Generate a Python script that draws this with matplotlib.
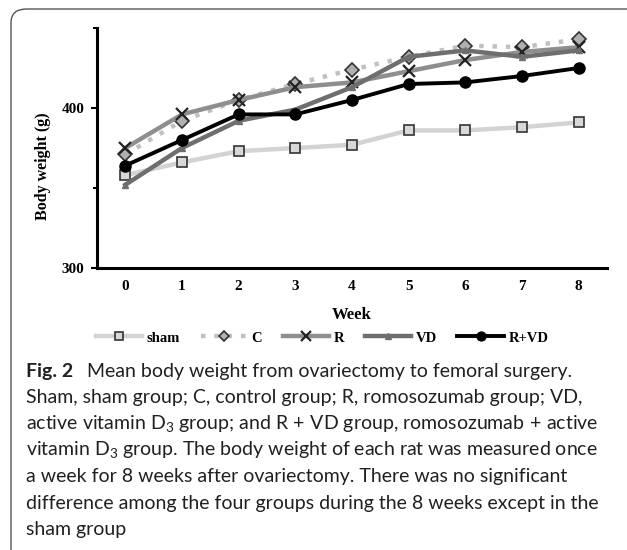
import matplotlib.pyplot as plt
from matplotlib.patches import FancyBboxPatch
from matplotlib.ticker import FixedLocator

weeks = [0, 1, 2, 3, 4, 5, 6, 7, 8]
sham = [358, 366, 373, 375, 377, 386, 386, 388, 391]
ctrl = [371, 392, 405, 415, 424, 432, 439, 438, 443]
romo = [375, 396, 405, 413, 416, 423, 430, 435, 438]
vd = [352, 375, 392, 399, 413, 432, 436, 432, 436]
r_vd = [364, 380, 396, 396, 405, 415, 416, 420, 425]

series_names = ["sham", "C", "R", "VD", "R+VD"]

caption_lines = [
    "Sham, sham group; C, control group; R, romosozumab group; VD,",
    "active vitamin D$_3$ group; and R$\\,+\\,$VD group, romosozumab$\\,+\\,$active",
    "vitamin D$_3$ group. The body weight of each rat was measured once",
    "a week for 8 weeks after ovariectomy. There was no significant",
    "difference among the four groups during the 8 weeks except in the",
    "sham group",
]

W, H = 627, 550
plt.rcParams["mathtext.fontset"] = "custom"
plt.rcParams["mathtext.rm"] = "Lato"
plt.rcParams["mathtext.it"] = "Lato:italic"

fig = plt.figure(figsize=(W / 100, H / 100), dpi=100)

# rounded frame around figure + caption
frame = FancyBboxPatch((11 / W, 1 - 600 / H), 700 / W, 591 / H,
                       boxstyle="round,pad=0,rounding_size=0.025",
                       transform=fig.transFigure, fill=False,
                       edgecolor="#555555", lw=1.0)
fig.patches.append(frame)

ax = fig.add_axes([97 / W, 1 - 268 / H, 510 / W, 240 / H])

serif = "Liberation Serif"
styles = [
    dict(color="#d3d3d3", ls="-", lw=3.2, marker="s", ms=7, mfc="#d8d8d8", mec="#333333", mew=1.2),
    dict(color="#c0c0c0", ls=(0, (1, 2)), lw=3.2, marker="D", ms=7, mfc="#b0b0b0", mec="#333333", mew=1.2),
    dict(color="#8e8e8e", ls="-", lw=3.2, marker="x", ms=9, mec="#222222", mew=1.6),
    dict(color="#6e6e6e", ls="-", lw=3.2, marker="^", ms=5, mfc="#6e6e6e", mec="#6e6e6e"),
    dict(color="#000000", ls="-", lw=2.8, marker="o", ms=8, mfc="#000000", mec="#000000"),
]
for vals, name, st in zip([sham, ctrl, romo, vd, r_vd], series_names, styles):
    ax.plot(weeks, vals, label=name, **st)

ax.set_xlim(-0.5, 8.5)
ax.set_ylim(300, 450)
ax.set_xticks(weeks)
ax.yaxis.set_major_locator(FixedLocator([300, 400]))
ax.yaxis.set_minor_locator(FixedLocator([350, 450]))
ax.tick_params(axis="x", length=0, pad=9)
ax.tick_params(axis="y", which="major", length=4, width=1.5, pad=5)
ax.tick_params(axis="y", which="minor", length=3, width=1.5)
for lab in ax.get_xticklabels() + ax.get_yticklabels():
    lab.set_fontfamily(serif)
    lab.set_fontweight("bold")
    lab.set_fontsize(11)
for side in ["top", "right"]:
    ax.spines[side].set_visible(False)
for side in ["left", "bottom"]:
    ax.spines[side].set_linewidth(2.2)

ax.set_xlabel("Week", fontfamily=serif, fontweight="bold", fontsize=12, labelpad=10)
fig.text(43 / W, 1 - 166 / H, "Body weight (g)", rotation=90, ha="center", va="center",
         fontfamily=serif, fontweight="bold", fontsize=11.5)

leg = fig.legend(loc="center", bbox_to_anchor=(322 / W, 1 - 338 / H), ncol=5,
                 frameon=False, handlelength=3.2, handletextpad=0.3,
                 columnspacing=1.4, numpoints=1, markerscale=0.8,
                 prop=dict(family=serif, weight="bold", size=10.5))

# caption
cap = dict(fontfamily="Lato", fontsize=14, color="#231f20", va="center", ha="left")
fig.text(26 / W, 1 - 371 / H, "Fig. 2", fontweight="bold", **cap)
fig.text(87 / W, 1 - 371 / H, "Mean body weight from ovariectomy to femoral surgery.", **cap)
for i, line in enumerate(caption_lines):
    fig.text(26 / W, 1 - (397 + i * 26.5) / H, line, **cap)

fig.savefig("out.png", dpi=100)
